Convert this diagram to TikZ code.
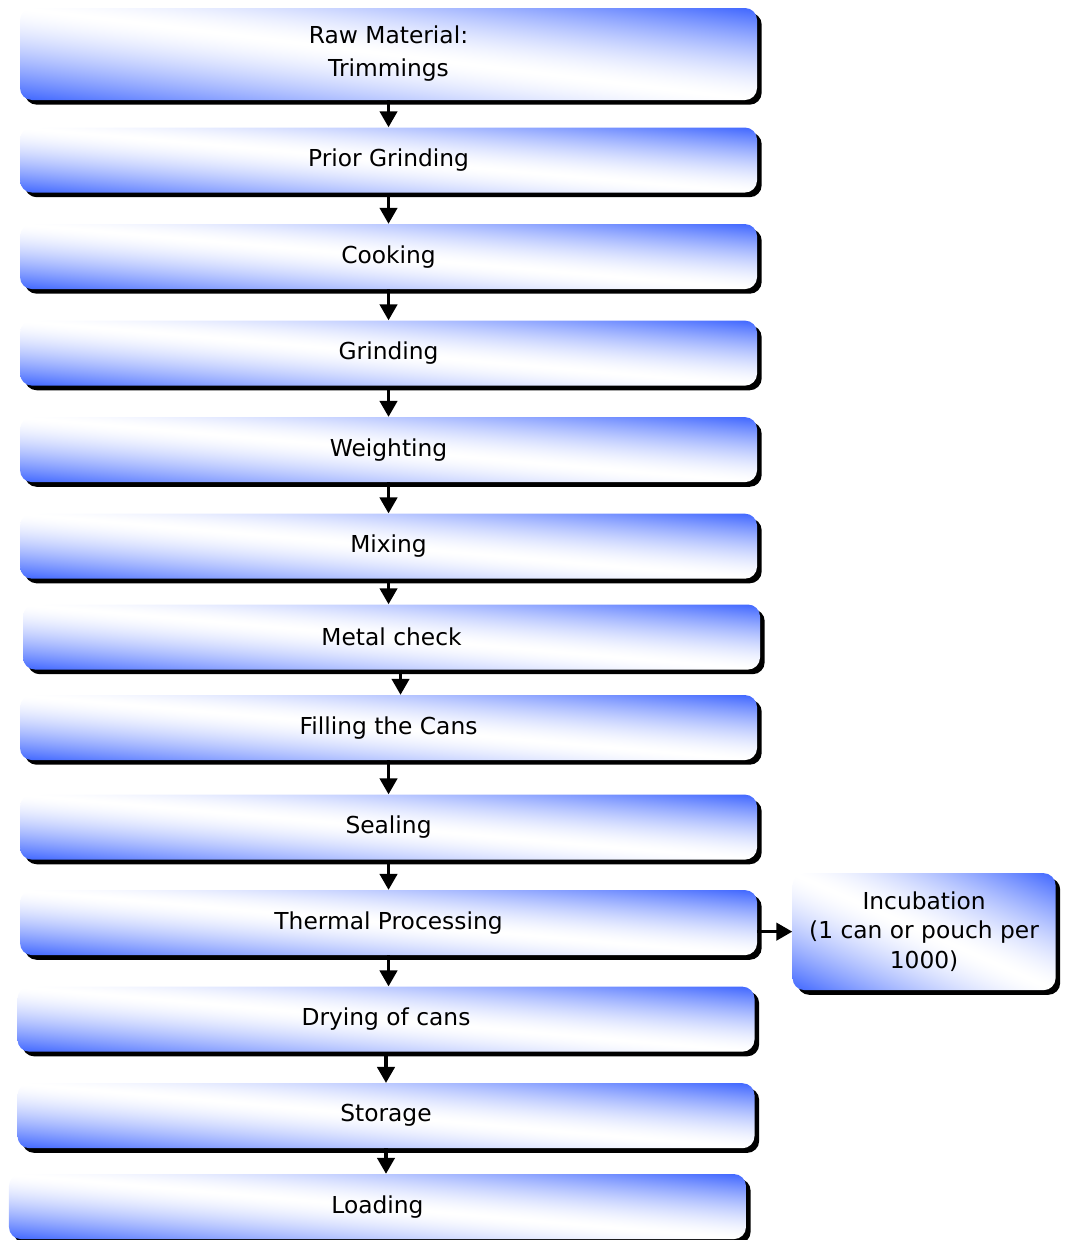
\documentclass[tikz,border=0pt]{standalone}
\usepackage{fontspec}
\setmainfont{DejaVu Sans}
\usetikzlibrary{arrows.meta,positioning,shadows}

% blue in the lower left and upper right corners, white along the other diagonal
\pgfdeclarefunctionalshading{diagblue}{\pgfpoint{0bp}{0bp}}{\pgfpoint{100bp}{100bp}}{}{
  50 sub exch 50 sub add 50 div abs dup 1 gt {pop 1} if
  dup sqrt mul
  dup 0.753 mul 1 exch sub
  exch dup 0.6 mul 1 exch sub
  exch pop 1
}

\begin{document}
\begin{tikzpicture}[
  stepbox/.style={rounded corners=9pt, minimum width=552.75pt, minimum height=48.75pt, inner sep=0pt, align=center,
    font=\fontsize{17.5}{24.75}\selectfont, shade, shading=diagblue,
    drop shadow={shadow xshift=3.5pt, shadow yshift=-3.5pt, fill=black, opacity=1}},
  arr/.style={-{Triangle[length=12pt,width=13pt]}, line width=2.5pt, color=black},
  node distance=23.25pt
]
  \useasboundingbox (0,0) rectangle (799.5pt,-930pt);
  \node[stepbox, minimum height=69pt] (raw) at (291.4pt,-40.5pt) {Raw Material:\\Trimmings};
  \node[stepbox, below=20.25pt of raw] (prior) {Prior Grinding};
  \node[stepbox, below=of prior] (cook) {Cooking};
  \node[stepbox, below=of cook] (grind) {Grinding};
  \node[stepbox, below=of grind] (weigh) {Weighting};
  \node[stepbox, below=of weigh] (mix) {Mixing};
  \node[stepbox, below=19pt of mix, xshift=2.25pt] (metal) {Metal check};
  \node[stepbox, below=18.75pt of metal, xshift=-2.25pt] (fill) {Filling the Cans};
  \node[stepbox, below=25.5pt of fill] (seal) {Sealing};
  \node[stepbox, below=22.5pt of seal] (therm) {Thermal Processing};
  \node[stepbox, below=of therm, xshift=-1.9pt] (dry) {Drying of cans};
  \node[stepbox, below=23.25pt of dry] (store) {Storage};
  \node[stepbox, below=19pt of store, xshift=-6.4pt] (load) {Loading};
  \node[stepbox, minimum width=197.25pt, minimum height=87.75pt, font=\fontsize{17.5}{22}\selectfont,
    right=26.25pt of therm, yshift=-6.75pt] (incub) {Incubation\\(1 can or pouch per\\1000)};
  \draw[arr] (raw.south) -- (raw.south |- prior.north);
  \draw[arr] (prior.south) -- (prior.south |- cook.north);
  \draw[arr] (cook.south) -- (cook.south |- grind.north);
  \draw[arr] (grind.south) -- (grind.south |- weigh.north);
  \draw[arr] (weigh.south) -- (weigh.south |- mix.north);
  \draw[arr] (mix.south) -- (mix.south |- metal.north);
  \draw[arr] ([xshift=6.75pt]metal.south) -- ([xshift=6.75pt]metal.south |- fill.north);
  \draw[arr] (fill.south) -- (fill.south |- seal.north);
  \draw[arr] (seal.south) -- (seal.south |- therm.north);
  \draw[arr] (therm.south) -- (therm.south |- dry.north);
  \draw[arr] (dry.south) -- (dry.south |- store.north);
  \draw[arr] (store.south) -- (store.south |- load.north);
  \draw[arr] (therm.east |- incub.west) -- (incub.west);
\end{tikzpicture}
\end{document}
